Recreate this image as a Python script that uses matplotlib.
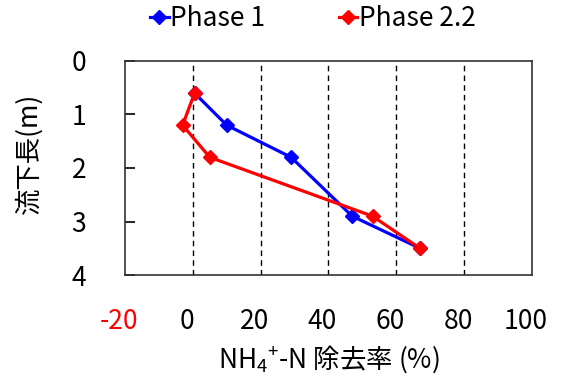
import matplotlib
matplotlib.use('Agg')
import matplotlib.pyplot as plt
import matplotlib.transforms as mtransforms

plt.rcParams['font.family'] = ['Noto Sans CJK JP', 'DejaVu Sans']
plt.rcParams['mathtext.default'] = 'regular'
plt.rcParams['axes.unicode_minus'] = False

# removal rate (%) vs flow length (m)
phase1_x = [0.5, 10, 29, 47, 67]
phase1_y = [0.6, 1.2, 1.8, 2.9, 3.5]
phase22_x = [0.5, -3, 5, 53, 67]
phase22_y = [0.6, 1.2, 1.8, 2.9, 3.5]

xticks = [-20, 0, 20, 40, 60, 80, 100]
yticks = [0, 1, 2, 3, 4]

fig = plt.figure(figsize=(5.69, 3.80), dpi=100)
ax = fig.add_axes([0.2197, 0.2763, 0.715, 0.5632])

ax.plot(phase1_x, phase1_y, color='#0000ff', lw=2.3, marker='D', ms=7.5,
        label='Phase 1')
ax.plot(phase22_x, phase22_y, color='#ff0000', lw=2.3, marker='D', ms=7.5,
        label='Phase 2.2')

ax.set_xlim(-20, 100)
ax.set_ylim(4, 0)
ax.set_xticks(xticks)
ax.set_yticks(yticks)

# dashed vertical grid lines
for gx in xticks[1:-1]:
    ax.axvline(gx, color='black', lw=1.0, ls=(0, (4, 3)), zorder=0)

for s in ax.spines.values():
    s.set_linewidth(1.2)
    s.set_color('#333333')

ax.tick_params(axis='x', length=0, pad=24, labelsize=19)
ax.tick_params(axis='y', direction='in', length=7, width=1.2, pad=28,
               labelsize=19)

offset = mtransforms.ScaledTranslation(-6 / 100, 0, fig.dpi_scale_trans)
for lab in ax.get_xticklabels():
    lab.set_transform(lab.get_transform() + offset)
ax.get_xticklabels()[0].set_color('red')

ax.set_xlabel('NH$_4$$^{+}$-N 除去率 (%)', fontsize=19, labelpad=6)
ax.set_ylabel('流下長(m)', fontsize=19)
ax.yaxis.set_label_coords(-0.2015, 0.57)

fig.legend(loc='upper center', bbox_to_anchor=(0.55, 1.05), ncol=2,
           frameon=False, fontsize=19, handlelength=0.7, handletextpad=0.05,
           columnspacing=2.8)

fig.savefig('out.png', dpi=100)
